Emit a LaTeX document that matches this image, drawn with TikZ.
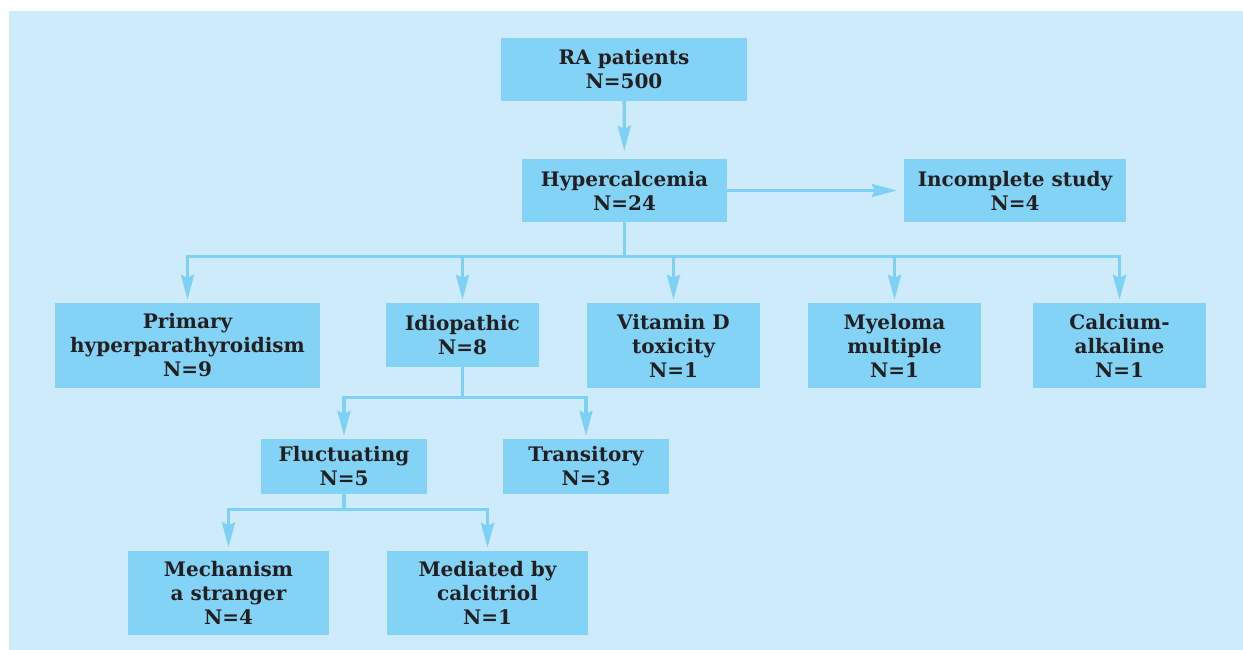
\documentclass[tikz,border=0pt]{standalone}
\usepackage{fontspec}
\setmainfont{DejaVu Serif}
\usetikzlibrary{arrows.meta}
\definecolor{panelblue}{HTML}{CDEBFB}
\definecolor{boxblue}{HTML}{83D3F6}
\definecolor{arrowblue}{HTML}{7FD0F5}
\definecolor{textdark}{HTML}{231F20}
\tikzset{
  stage/.style={fill=boxblue, inner sep=0pt, align=center, text=textdark,
    font=\bfseries\fontsize{20}{24}\selectfont},
  flow/.style={draw=arrowblue, line width=3.3pt,
    -{Stealth[length=25pt,width=13pt,inset=3pt]}, shorten >=3pt},
}
\begin{document}
\begin{tikzpicture}[x=1pt,y=-1pt]
  \useasboundingbox (0,0) rectangle (1243,650);
  \fill[panelblue] (9,11) rectangle (1243,650);
  % top of the tree
  \node[stage, minimum width=246pt, minimum height=63pt] (ra) at (624,69.5) {RA patients\\N=500};
  \node[stage, minimum width=205pt, minimum height=63pt] (hyper) at (624.5,190.5) {Hypercalcemia\\N=24};
  \node[stage, minimum width=222pt, minimum height=63pt] (incomplete) at (1015,190.5) {Incomplete study\\N=4};
  % causes
  \node[stage, minimum width=265pt, minimum height=85pt] (primary) at (187.5,345.5) {Primary\\hyperparathyroidism\\N=9};
  \node[stage, minimum width=153pt, minimum height=64pt] (idio) at (462.5,335) {Idiopathic\\N=8};
  \node[stage, minimum width=173pt, minimum height=85pt] (vitd) at (673.5,345.5) {Vitamin D\\toxicity\\N=1};
  \node[stage, minimum width=173pt, minimum height=85pt] (myeloma) at (894.5,345.5) {Myeloma\\multiple\\N=1};
  \node[stage, minimum width=173pt, minimum height=85pt] (calcium) at (1119.5,345.5) {Calcium-\\alkaline\\N=1};
  % idiopathic subtypes
  \node[stage, minimum width=166pt, minimum height=55pt] (fluct) at (344,466.5) {Fluctuating\\N=5};
  \node[stage, minimum width=166pt, minimum height=55pt] (trans) at (586,466.5) {Transitory\\N=3};
  \node[stage, minimum width=201pt, minimum height=84pt] (mech) at (228.5,592.5) {Mechanism\\a stranger\\N=4};
  \node[stage, minimum width=201pt, minimum height=84pt] (medi) at (487.5,593) {Mediated by\\calcitriol\\N=1};
  % connectors
  \draw[flow, shorten >=8pt] (ra) -- (hyper);
  \draw[flow, shorten >=7pt] (hyper) -- (incomplete);
  \foreach \c in {primary,idio,vitd,myeloma,calcium}
    \draw[flow] (hyper.south) -- ++(0,34) -| (\c.north);
  \foreach \c in {fluct,trans}
    \draw[flow] (idio.south) -- ++(0,30) -| (\c.north);
  \foreach \c in {mech,medi}
    \draw[flow] (fluct.south) -- ++(0,15) -| (\c.north);
\end{tikzpicture}
\end{document}
